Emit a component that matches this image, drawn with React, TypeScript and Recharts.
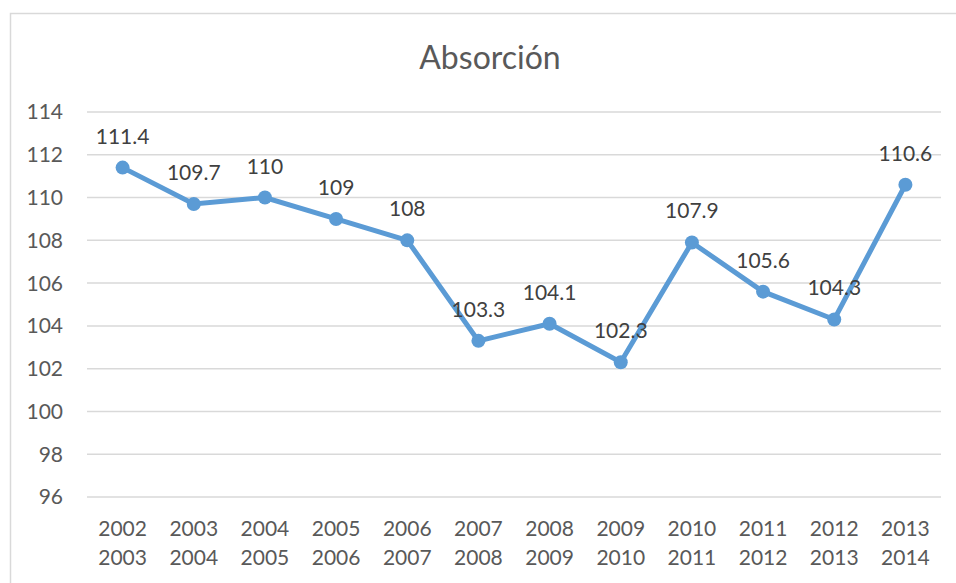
import { LineChart, Line, XAxis, YAxis, CartesianGrid, LabelList } from 'recharts'

const periods = ['2002-2003', '2003-2004', '2004-2005', '2005-2006', '2006-2007', '2007-2008', '2008-2009', '2009-2010', '2010-2011', '2011-2012', '2012-2013', '2013-2014']
const absorcion = [111.4, 109.7, 110, 109, 108, 103.3, 104.1, 102.3, 107.9, 105.6, 104.3, 110.6]
const yTicks = [96, 98, 100, 102, 104, 106, 108, 110, 112, 114]

const data = periods.map((p, i) => ({ period: p, value: absorcion[i] }))

const FONT = 'Lato, "Open Sans", sans-serif'

function PeriodTick(props: any) {
  const { x, y, payload } = props
  const [a, b] = String(payload.value).split('-')
  return (
    <g>
      <text x={x} y={y + 39} textAnchor="middle" fill="#595959" fontSize={21} fontFamily={FONT}>{a}</text>
      <text x={x} y={y + 68} textAnchor="middle" fill="#595959" fontSize={21} fontFamily={FONT}>{b}</text>
    </g>
  )
}

export default function App() {
  return (
    <div style={{ position: 'absolute', left: 0, top: 0, width: 956, height: 583, background: '#fff', overflow: 'hidden' }}>
      <svg width={956} height={583} style={{ position: 'absolute', left: 0, top: 0 }}>
        <rect x={10.5} y={13.5} width={1000} height={1000} fill="none" stroke="#d9d9d9" strokeWidth={1.5} />
        <text x={490} y={69} textAnchor="middle" fill="#595959" fontSize={32} fontFamily={FONT}>Absorción</text>
      </svg>
      <div style={{ position: 'absolute', left: 0, top: 0 }}>
        <LineChart width={956} height={583} data={data} margin={{ top: 112, right: 15, bottom: 0, left: 27 }}>
          <CartesianGrid vertical={false} stroke="#d9d9d9" strokeWidth={1.5} />
          <XAxis
            dataKey="period"
            axisLine={false}
            tickLine={false}
            tickSize={0}
            tickMargin={0}
            interval={0}
            tick={<PeriodTick />}
            height={86}
            padding={{ left: 35.6, right: 35.6 }}
          />
          <YAxis
            domain={[96, 114]}
            ticks={yTicks}
            axisLine={false}
            tickLine={false}
            tickSize={0}
            tickMargin={24}
            width={60}
            tick={{ fill: '#595959', fontSize: 21, fontFamily: FONT }}
          />
          <Line
            type="linear"
            dataKey="value"
            stroke="#5b9bd5"
            strokeWidth={5}
            dot={{ r: 7, fill: '#5b9bd5', stroke: '#5b9bd5', strokeWidth: 0 }}
            isAnimationActive={false}
          >
            <LabelList dataKey="value" position="top" offset={24} fill="#404040" fontSize={21} fontFamily={FONT} />
          </Line>
        </LineChart>
      </div>
    </div>
  )
}
